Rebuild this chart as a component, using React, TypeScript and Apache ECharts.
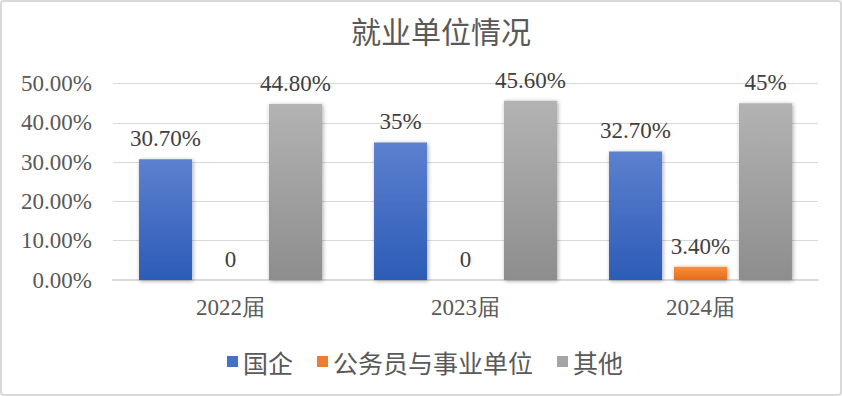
import React, { useEffect, useRef } from "react";
import * as echarts from "echarts";

const categories = ["2022届", "2023届", "2024届"];
const seriesNames = ["国企", "公务员与事业单位", "其他"];
const stateOwned = [30.7, 35, 32.7];
const civilService = [0, 0, 3.4];
const others = [44.8, 45.6, 45];
const yTicks = [0, 10, 20, 30, 40, 50];

const SERIF = "Liberation Serif";
const CJK = "Noto Sans CJK SC";

const grad = (top: string, bottom: string) =>
  new echarts.graphic.LinearGradient(0, 0, 0, 1, [
    { offset: 0, color: top },
    { offset: 1, color: bottom },
  ]);

const fmtLabel = (v: number) =>
  v === 0 ? "0" : Number.isInteger(v) ? `${v}%` : `${v.toFixed(2)}%`;

export default function App() {
  const ref = useRef<HTMLDivElement>(null);
  useEffect(() => {
    document.body.style.margin = "0";
    const chart = echarts.init(ref.current!, undefined, { renderer: "svg" });
    const colors = [
      grad("#5d80cf", "#2c5cb7"),
      grad("#f7913f", "#e56c1a"),
      grad("#b3b3b3", "#8d8d8d"),
    ];
    const legendColors = ["#4472c4", "#ed7d31", "#a5a5a5"];
    const datasets = [stateOwned, civilService, others];
    chart.setOption({
      animation: false,
      backgroundColor: "#ffffff",
      textStyle: { fontFamily: SERIF },
      title: {
        text: "就业单位情况",
        left: 346,
        top: 10,
        textStyle: { fontFamily: CJK, fontSize: 30, fontWeight: "normal", color: "#595959" },
      },
      graphic: [
        {
          type: "rect",
          shape: { x: 1, y: 1, width: 840, height: 394, r: 3 },
          style: { fill: "none", stroke: "#d9d9d9", lineWidth: 2 },
          silent: true,
        },
      ],
      legend: {
        left: 222,
        top: 344,
        itemWidth: 11,
        itemHeight: 11,
        itemGap: 24,
        icon: "rect",
        textStyle: { fontFamily: CJK, fontSize: 25, color: "#595959" },
        data: seriesNames.map((n, i) => ({ name: n, itemStyle: { color: legendColors[i] } })),
      },
      grid: { left: 113, right: 24, top: 83.5, bottom: 116 },
      xAxis: {
        type: "category",
        data: categories,
        axisLine: { lineStyle: { color: "#d9d9d9", width: 2 } },
        axisTick: { show: false },
        axisLabel: { fontFamily: SERIF, fontSize: 23, color: "#595959", margin: 16 },
      },
      yAxis: {
        type: "value",
        min: yTicks[0],
        max: yTicks[yTicks.length - 1],
        interval: 10,
        axisLine: { show: false },
        axisTick: { show: false },
        splitLine: { lineStyle: { color: "#d9d9d9", width: 1 } },
        axisLabel: {
          fontFamily: SERIF,
          fontSize: 23,
          color: "#595959",
          margin: 21,
          formatter: (v: number) => `${v.toFixed(2)}%`,
        },
      },
      series: seriesNames.map((name, i) => ({
        name,
        type: "bar",
        data: datasets[i],
        barWidth: 53,
        barGap: "22.6%",
        itemStyle: {
          color: colors[i],
          shadowColor: "rgba(0,0,0,0.35)",
          shadowBlur: 4,
          shadowOffsetX: 1,
          shadowOffsetY: 1,
        },
        label: {
          show: true,
          position: "top",
          distance: 9,
          fontFamily: SERIF,
          fontSize: 23,
          color: "#404040",
          formatter: (p: any) => fmtLabel(p.value),
        },
      })),
    });
    return () => chart.dispose();
  }, []);
  return <div ref={ref} style={{ width: 842, height: 396 }} />;
}
